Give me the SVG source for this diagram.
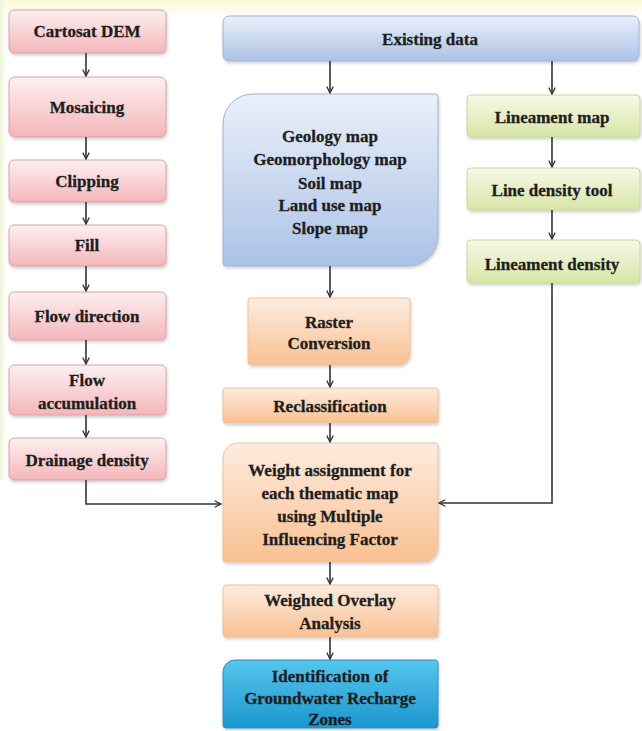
<svg xmlns="http://www.w3.org/2000/svg" width="642" height="731" viewBox="0 0 642 731">
  <defs>
    <linearGradient id="gPink" x1="0" y1="0" x2="0" y2="1">
      <stop offset="0" stop-color="#fdf0f1"/><stop offset="1" stop-color="#f4b6ba"/>
    </linearGradient>
    <linearGradient id="gBlue" x1="0" y1="0" x2="0" y2="1">
      <stop offset="0" stop-color="#eaf0fa"/><stop offset="1" stop-color="#abc2e6"/>
    </linearGradient>
    <linearGradient id="gOrange" x1="0" y1="0" x2="0" y2="1">
      <stop offset="0" stop-color="#fdecdf"/><stop offset="1" stop-color="#f9c092"/>
    </linearGradient>
    <linearGradient id="gGreen" x1="0" y1="0" x2="0" y2="1">
      <stop offset="0" stop-color="#f7f9e8"/><stop offset="1" stop-color="#d7e5a6"/>
    </linearGradient>
    <linearGradient id="gCyan" x1="0" y1="0" x2="0" y2="1">
      <stop offset="0" stop-color="#55c6ec"/><stop offset="1" stop-color="#1c96cf"/>
    </linearGradient>
    <linearGradient id="gTop" x1="0" y1="0" x2="0" y2="1">
      <stop offset="0" stop-color="#fbf7d8"/><stop offset="1" stop-color="#ffffff"/>
    </linearGradient>
    <linearGradient id="gLeft" x1="0" y1="0" x2="1" y2="0">
      <stop offset="0" stop-color="#eef3d6"/><stop offset="1" stop-color="#ffffff" stop-opacity="0"/>
    </linearGradient>
    <filter id="sh" x="-10%" y="-10%" width="130%" height="140%">
      <feDropShadow dx="1" dy="2" stdDeviation="1.5" flood-color="#000" flood-opacity="0.18"/>
    </filter>
    <marker id="arr" viewBox="0 0 10 10" refX="9" refY="5" markerWidth="8" markerHeight="8" orient="auto" markerUnits="userSpaceOnUse">
      <path d="M1,1 L9,5 L1,9" fill="none" stroke="#333" stroke-width="1.6"/>
    </marker>
    <style>
      .t { font-family: "Liberation Serif", "Times New Roman", serif; font-weight: bold; font-size: 17px; fill: #1e1e1e; stroke: #1e1e1e; stroke-width: 0.3; text-anchor: middle; }
      .pink { fill: url(#gPink); stroke: #d9a1a5; stroke-width: 1; filter: url(#sh); }
      .blue { fill: url(#gBlue); stroke: #9db2d4; stroke-width: 1; filter: url(#sh); }
      .orange { fill: url(#gOrange); stroke: #edc09c; stroke-width: 1; filter: url(#sh); }
      .green { fill: url(#gGreen); stroke: #c9d69d; stroke-width: 1; filter: url(#sh); }
      .cyan { fill: url(#gCyan); stroke: #2b8dbf; stroke-width: 1; filter: url(#sh); }
      .c { fill: none; stroke: #333; stroke-width: 1.6; marker-end: url(#arr); }
    </style>
  </defs>

  <rect x="0" y="0" width="642" height="731" fill="#ffffff"/>
  <rect x="0" y="0" width="642" height="18" fill="url(#gTop)"/>
  <rect x="0" y="0" width="10" height="480" fill="url(#gLeft)"/>

  <!-- Left column -->
  <g id="n-cartosat"><rect class="pink" x="9" y="10" width="157" height="43" rx="5"/><text class="t" x="87" y="37">Cartosat DEM</text></g>
  <g id="n-mosaicing"><rect class="pink" x="9" y="77" width="157" height="60" rx="6"/><text class="t" x="87" y="113">Mosaicing</text></g>
  <g id="n-clipping"><rect class="pink" x="9" y="160" width="157" height="42" rx="5"/><text class="t" x="87" y="187">Clipping</text></g>
  <g id="n-fill"><rect class="pink" x="9" y="225" width="157" height="41" rx="5"/><text class="t" x="87" y="251">Fill</text></g>
  <g id="n-flowdir"><rect class="pink" x="9" y="292" width="157" height="48" rx="5"/><text class="t" x="87" y="322">Flow direction</text></g>
  <g id="n-flowacc"><rect class="pink" x="9" y="365" width="157" height="50" rx="5"/><text class="t" x="87" y="386">Flow</text><text class="t" x="87" y="409">accumulation</text></g>
  <g id="n-drainage"><rect class="pink" x="9" y="438" width="157" height="42" rx="5"/><text class="t" x="87" y="466">Drainage density</text></g>

  <!-- Middle column -->
  <g id="n-existing"><rect class="blue" x="223" y="16" width="416" height="45" rx="6"/><text class="t" x="430" y="45">Existing data</text></g>
  <g id="n-maps">
    <path class="blue" d="M253,94 H435 Q438,94 438,97 V236 A30,30 0 0 1 408,266 H226 Q223,266 223,263 V124 A30,30 0 0 1 253,94 Z"/>
    <text class="t" x="330" y="142">Geology map</text>
    <text class="t" x="330" y="165">Geomorphology map</text>
    <text class="t" x="330" y="189">Soil map</text>
    <text class="t" x="330" y="211">Land use map</text>
    <text class="t" x="330" y="234">Slope map</text>
  </g>
  <g id="n-raster">
    <path class="orange" d="M251,298 H407 Q410,298 410,301 V353 A12,12 0 0 1 398,365 H251 Q248,365 248,362 V301 Q248,298 251,298 Z"/>
    <text class="t" x="329" y="328">Raster</text>
    <text class="t" x="329" y="349">Conversion</text>
  </g>
  <g id="n-reclass"><rect class="orange" x="223" y="388" width="215" height="35" rx="3"/><text class="t" x="330" y="412">Reclassification</text></g>
  <g id="n-weight">
    <path class="orange" d="M238,443 H435 Q438,443 438,446 V547 A15,15 0 0 1 423,562 H226 Q223,562 223,559 V458 A15,15 0 0 1 238,443 Z"/>
    <text class="t" x="330" y="476">Weight assignment for</text>
    <text class="t" x="330" y="499">each thematic map</text>
    <text class="t" x="330" y="522">using Multiple</text>
    <text class="t" x="330" y="545">Influencing Factor</text>
  </g>
  <g id="n-overlay"><rect class="orange" x="223" y="585" width="215" height="52" rx="4"/><text class="t" x="330" y="606">Weighted Overlay</text><text class="t" x="330" y="629">Analysis</text></g>
  <g id="n-ident">
    <path class="cyan" d="M235,660 H435 Q438,660 438,663 V725 Q438,728 435,728 H226 Q223,728 223,725 V672 A12,12 0 0 1 235,660 Z"/>
    <text class="t" x="330" y="682">Identification of</text>
    <text class="t" x="330" y="704">Groundwater Recharge</text>
    <text class="t" x="330" y="725">Zones</text>
  </g>

  <!-- Right column -->
  <g id="n-lineament"><rect class="green" x="467" y="95" width="173" height="42" rx="4"/><text class="t" x="552" y="123">Lineament map</text></g>
  <g id="n-linetool"><rect class="green" x="467" y="168" width="173" height="42" rx="4"/><text class="t" x="552" y="196">Line density tool</text></g>
  <g id="n-lindensity"><rect class="green" x="467" y="240" width="173" height="43" rx="4"/><text class="t" x="552" y="270">Lineament density</text></g>

  <!-- Connectors -->
  <g id="connectors">
    <line class="c" x1="86" y1="53" x2="86" y2="76"/>
    <line class="c" x1="86" y1="137" x2="86" y2="159"/>
    <line class="c" x1="86" y1="202" x2="86" y2="224"/>
    <line class="c" x1="86" y1="266" x2="86" y2="291"/>
    <line class="c" x1="86" y1="340" x2="86" y2="364"/>
    <line class="c" x1="86" y1="415" x2="86" y2="437"/>
    <polyline class="c" points="86,480 86,504 221,504"/>
    <line class="c" x1="330" y1="61" x2="330" y2="93"/>
    <line class="c" x1="330" y1="266" x2="330" y2="297"/>
    <line class="c" x1="330" y1="365" x2="330" y2="387"/>
    <line class="c" x1="330" y1="423" x2="330" y2="442"/>
    <line class="c" x1="330" y1="562" x2="330" y2="584"/>
    <line class="c" x1="330" y1="637" x2="330" y2="659"/>
    <line class="c" x1="552" y1="61" x2="552" y2="94"/>
    <line class="c" x1="552" y1="137" x2="552" y2="167"/>
    <line class="c" x1="552" y1="210" x2="552" y2="239"/>
    <polyline class="c" points="552,283 552,503 439,503"/>
  </g>
</svg>
